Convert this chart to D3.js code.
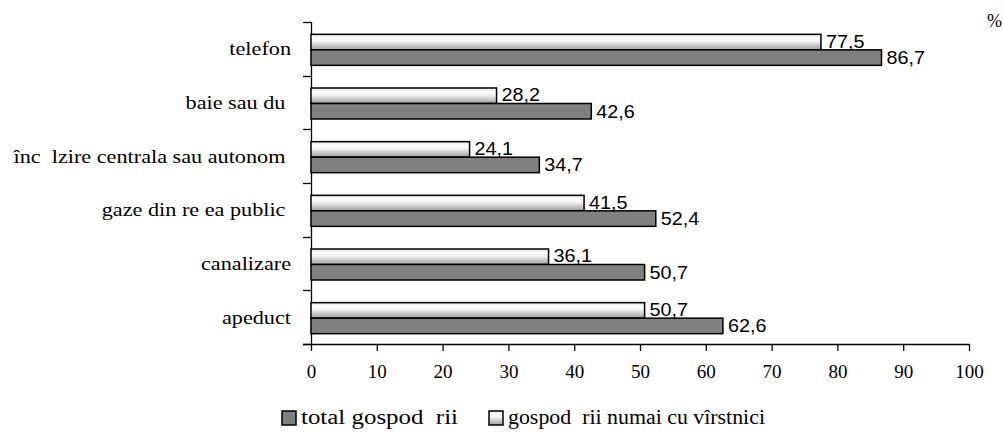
<!DOCTYPE html>
<html><head><meta charset="utf-8">
<script src="https://cdn.jsdelivr.net/npm/d3@7"></script>
<style>body{margin:0;background:#fff}svg{display:block}text{white-space:pre}</style>
</head><body>
<svg id="c" width="1003" height="432"></svg>
<script>
const categories = ["telefon","baie sau du ","înc  lzire centrala sau autonom ","gaze din re ea public ","canalizare","apeduct"];
const totalValues = [86.7, 42.6, 34.7, 52.4, 50.7, 62.6];
const elderlyValues = [77.5, 28.2, 24.1, 41.5, 36.1, 50.7];
const xTicks = [0,10,20,30,40,50,60,70,80,90,100];
const seriesNames = ["total gospod  rii","gospod  rii numai cu vîrstnici"];

const SERIF = "'Liberation Serif','Times New Roman',serif";
const SANS = "'Liberation Sans',Arial,sans-serif";

const svg = d3.select("#c");
const defs = svg.append("defs");
const g = defs.append("linearGradient").attr("id","wg").attr("x1",0).attr("y1",0).attr("x2",0).attr("y2",1);
g.append("stop").attr("offset","0%").attr("stop-color","#e6e6e6");
g.append("stop").attr("offset","25%").attr("stop-color","#ffffff");
g.append("stop").attr("offset","45%").attr("stop-color","#f2f2f2");
g.append("stop").attr("offset","100%").attr("stop-color","#9c9c9c");

const AX_Y = 344, AX_TOP = 22;
const x = d3.scaleLinear().domain([0,100]).range([311,969]);
const y = d3.scaleBand().domain(categories).range([AX_TOP,AX_Y]);
const BAR_H = 15.5;
const sub = d3.scaleBand().domain(["e","t"]).range([0,2*BAR_H]);
const barOff = (y.bandwidth()-2*BAR_H)/2 + 1;

// x axis
const xa = svg.append("g").attr("transform",`translate(0,${AX_Y})`)
  .call(d3.axisBottom(x).tickValues(xTicks).tickSize(7).tickPadding(8).tickFormat(d3.format("d")));
xa.select(".domain").attr("d","M303,0.5H969.5");
xa.selectAll("text").attr("font-family",SERIF).attr("font-size",19).attr("fill","#000")
  .attr("y",21).attr("dy","0.68em");
xa.selectAll(".tick line").attr("stroke","#000").attr("stroke-width",1.3);
xa.select(".domain").attr("stroke","#000").attr("stroke-width",1.3);

// y axis
const ya = svg.append("g").attr("transform","translate(311,0)")
  .call(d3.axisLeft(y).tickSize(0).tickFormat(""));
ya.select(".domain").attr("d",`M0.5,${AX_TOP}V${AX_Y}`).attr("stroke","#000").attr("stroke-width",1.3);
const bounds = categories.map(c=>y(c)).concat([AX_Y]);
svg.append("g").selectAll("line").data(bounds).join("line")
  .attr("x1",303).attr("x2",311).attr("y1",d=>Math.round(d)+0.5).attr("y2",d=>Math.round(d)+0.5)
  .attr("stroke","#000").attr("stroke-width",1.3);

// category labels
svg.append("g").selectAll("text").data(categories).join("text")
  .attr("transform",d=>`translate(291,${y(d)+y.bandwidth()/2+6.5}) scale(1.17,1)`)
  .attr("text-anchor","end")
  .attr("font-family",SERIF).attr("font-size",19).attr("fill","#000").text(d=>d);

// bars
const rows = categories.map((c,i)=>({c,e:elderlyValues[i],t:totalValues[i]}));
const bg = svg.append("g");
bg.selectAll("rect.e").data(rows).join("rect").attr("class","e")
  .attr("x",x(0)).attr("y",d=>y(d.c)+barOff+sub("e")).attr("height",sub.bandwidth())
  .attr("width",d=>x(d.e)-x(0)).attr("fill","url(#wg)").attr("stroke","#000").attr("stroke-width",1.5);
bg.selectAll("rect.t").data(rows).join("rect").attr("class","t")
  .attr("x",x(0)).attr("y",d=>y(d.c)+barOff+sub("t")).attr("height",sub.bandwidth())
  .attr("width",d=>x(d.t)-x(0)).attr("fill","#808080").attr("stroke","#000").attr("stroke-width",1.5);

const fmt = v => v.toFixed(1).replace(".",",");
bg.selectAll("text.e").data(rows).join("text").attr("class","e")
  .attr("transform",d=>`translate(${x(d.e)+5},${y(d.c)+barOff+sub("e")+sub.bandwidth()/2+5.5}) scale(1.1,1)`)
  .attr("font-family",SANS).attr("font-size",18).attr("fill","#000").text(d=>fmt(d.e));
bg.selectAll("text.t").data(rows).join("text").attr("class","t")
  .attr("transform",d=>`translate(${x(d.t)+5},${y(d.c)+barOff+sub("t")+sub.bandwidth()/2+6.5}) scale(1.1,1)`)
  .attr("font-family",SANS).attr("font-size",18).attr("fill","#000").text(d=>fmt(d.t));

// percent sign
svg.append("text").attr("x",987).attr("y",27).attr("font-family",SERIF).attr("font-size",18).text("%");

// legend
const lg = svg.append("g");
const legendItems = [{n:seriesNames[0],fill:"#808080",x:282,len:157},{n:seriesNames[1],fill:"url(#wg)",x:489,len:257}];
lg.selectAll("rect").data(legendItems).join("rect")
  .attr("x",d=>d.x).attr("y",411).attr("width",14).attr("height",14)
  .attr("fill",d=>d.fill).attr("stroke","#000").attr("stroke-width",1.5);
lg.selectAll("text").data(legendItems).join("text")
  .attr("x",d=>d.x+19).attr("y",424)
  .attr("textLength",d=>d.len).attr("lengthAdjust","spacingAndGlyphs")
  .attr("font-family",SERIF).attr("font-size",20).attr("fill","#000").text(d=>d.n);
</script>
</body></html>
